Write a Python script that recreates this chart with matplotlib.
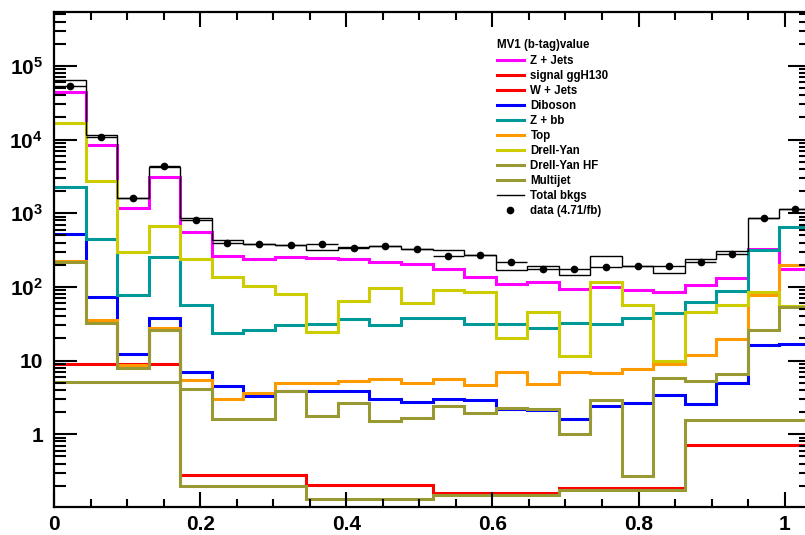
import matplotlib
matplotlib.use("Agg")
import matplotlib.pyplot as plt
import numpy as np
from matplotlib.lines import Line2D
from matplotlib.ticker import FixedLocator, FixedFormatter, LogLocator, NullFormatter, MultipleLocator

plt.rcParams['font.family'] = ['Liberation Sans', 'DejaVu Sans']
plt.rcParams['font.weight'] = 'bold'
plt.rcParams['mathtext.fontset'] = 'custom'
plt.rcParams['mathtext.rm'] = 'Liberation Sans:bold'
plt.rcParams['mathtext.it'] = 'Liberation Sans:bold'
plt.rcParams['mathtext.bf'] = 'Liberation Sans:bold'

# MV1 binning: 24 bins
x_lo, x_hi, n_bins = 0.0, 1.036, 24

# per-bin contents
z_jets = [44800, 8360, 1188, 3130, 561, 262, 241, 256, 251, 241, 219, 206,
          176, 137, 111, 115, 92.5, 98.5, 90.5, 85.8, 106, 133, 326, 178]
signal = [9.1, 9.1, 9.1, 9.1, 0.277, 0.277, 0.277, 0.277, 0.203, 0.203, 0.203, 0.203,
          0.16, 0.16, 0.16, 0.16, 0.188, 0.188, 0.188, 0.188, 0.71, 0.71, 0.71, 0.71]
diboson = [517, 72.7, 12.3, 38.0, 6.95, 4.49, 3.32, 3.84, 3.92, 3.92, 3.02, 2.75,
           3.02, 2.9, 2.21, 2.12, 1.63, 2.45, 2.64, 3.39, 2.61, 5.04, 16.5, 16.7]
z_bb = [2290, 442, 77.4, 252, 56.6, 23.8, 26.4, 30.3, 31.2, 36.9, 30.0, 37.3,
        37.7, 31.2, 31.2, 27.8, 32.5, 31.9, 38.0, 44.4, 62.8, 87.7, 316, 643]
top = [224, 35.4, 8.66, 27.3, 5.53, 3.05, 3.65, 4.98, 4.98, 5.3, 5.65, 4.98,
       5.59, 4.63, 7.03, 4.88, 6.96, 6.8, 7.8, 9.13, 12.1, 19.4, 77.4, 200]
drell_yan = [16600, 2765, 297, 670, 236, 137, 102.5, 79.8, 24.5, 64.7, 95.3, 60.3,
             90.5, 85.8, 20.0, 45.0, 11.5, 117, 56.6, 9.9, 45.9, 56.6, 84.2, 55]
dy_hf = [220, 32.5, 7.95, 25.7, 4.09, 1.63, 1.6, 3.92, 1.77, 2.66, 1.52, 1.65,
         2.45, 1.95, 2.28, 2.23, 1.02, 2.9, 0.275, 5.82, 5.3, 6.48, 25.9, 53.7]
multijet = [5.1, 5.1, 5.1, 5.1, 0.199, 0.199, 0.199, 0.199, 0.134, 0.134, 0.134, 0.134,
            0.148, 0.148, 0.148, 0.148, 0.176, 0.176, 0.176, 0.176, 1.58, 1.58, 1.58, 1.58]
total = [64500, 11660, 1625, 4250, 853, 432, 381, 373, 316, 351, 358, 323,
         313, 268, 169, 194, 145, 262, 190, 157, 236, 306, 853, 1150]
data = [53500, 10900, 1620, 4400, 808, 397, 385, 366, 385, 340, 358, 326,
        262, 268, 215, 176, 176, 184, 194, 194, 219, 276, 869, 1150]

series = [
    ("Z + Jets", z_jets, "#ff00ff"),
    ("signal ggH130", signal, "#ff0000"),
    ("W + Jets", None, "#ff0000"),
    ("Diboson", diboson, "#0000ff"),
    ("Z + bb", z_bb, "#009999"),
    ("Top", top, "#ff9900"),
    ("Drell-Yan", drell_yan, "#cccc00"),
    ("Drell-Yan HF", dy_hf, "#999933"),
    ("Multijet", multijet, "#999933"),
]

edges = np.linspace(x_lo, x_hi, n_bins + 1)
centers = 0.5 * (edges[:-1] + edges[1:])
half_w = 0.5 * (edges[1] - edges[0])

fig = plt.figure(figsize=(8.05, 5.35), dpi=100)
ax = fig.add_axes([54 / 805, 28 / 535, 757 / 805, 495 / 535])

handles = []
for name, vals, col in series:
    if vals is not None:
        ax.stairs(vals, edges, baseline=None, color=col, lw=2.2)
    handles.append(Line2D([], [], color=col, lw=2.2, label=name))

ax.stairs(total, edges, baseline=None, color="black", lw=1.0)
handles.append(Line2D([], [], color="black", lw=1.0, label="Total bkgs"))
ax.errorbar(centers, data, xerr=half_w, fmt="o", color="black", ms=4.5,
            elinewidth=1.0, capsize=0)
handles.append(Line2D([], [], color="black", marker="o", ms=4.5, ls="none",
                      label="data (4.71/fb)"))

ax.set_yscale("log")
ax.set_ylim(0.103, 5.4e5)
ax.set_xlim(x_lo, x_hi)

ax.yaxis.set_major_locator(FixedLocator([1, 10, 1e2, 1e3, 1e4, 1e5]))
ax.yaxis.set_major_formatter(FixedFormatter(["1", "10", r"$10^{2}$", r"$10^{3}$",
                                             r"$10^{4}$", r"$10^{5}$"]))
ax.yaxis.set_minor_locator(LogLocator(base=10, subs=np.arange(2, 10)))
ax.yaxis.set_minor_formatter(NullFormatter())
ax.xaxis.set_major_locator(MultipleLocator(0.2))
ax.xaxis.set_minor_locator(MultipleLocator(0.05))
ax.set_xticks([0, 0.2, 0.4, 0.6, 0.8, 1.0])
ax.set_xticklabels(["0", "0.2", "0.4", "0.6", "0.8", "1"])

ax.tick_params(which="both", direction="in", top=True, right=True, width=1.5,
               labelsize=15)
ax.tick_params(axis="y", which="major", length=16.5, pad=8)
ax.tick_params(axis="y", which="minor", length=8.6)
ax.tick_params(axis="x", which="major", length=10.8, pad=6)
ax.tick_params(axis="x", which="minor", length=5.8)
for s in ax.spines.values():
    s.set_linewidth(1.6)

leg = ax.legend(handles=handles, title="MV1 (b-tag)value", loc="upper left",
                bbox_to_anchor=(497 / 805, 1 - 39 / 535), bbox_transform=fig.transFigure,
                frameon=False, fontsize=8.3, title_fontsize=8.3, handlelength=2.3,
                handletextpad=0.6, labelspacing=0.255, borderpad=0, borderaxespad=0,
                alignment="left")
leg._legend_box.sep = 3

fig.savefig("out.png", dpi=100)
